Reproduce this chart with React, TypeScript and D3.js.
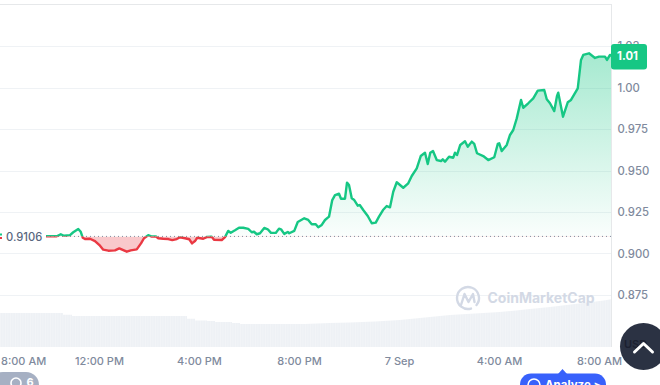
import React from "react";
import * as d3 from "d3";

// hours since 8:00 AM on the first day
const priceHours = [1.84,2.27,2.43,2.56,2.8,2.93,3.13,3.23,3.31,3.4,3.6,3.8,4,4.13,4.33,4.6,4.77,5.07,5.23,5.47,5.64,5.76,5.93,6.07,6.24,6.33,6.53,6.73,6.89,7.07,7.2,7.4,7.57,7.68,7.8,7.89,8.13,8.27,8.47,8.56,8.87,9,9.13,9.23,9.4,9.56,9.73,9.93,10.07,10.16,10.27,10.4,10.57,10.71,10.84,11.03,11.16,11.24,11.37,11.51,11.57,11.77,11.91,12.17,12.33,12.47,12.63,12.73,12.87,13,13.16,13.29,13.4,13.56,13.64,13.8,13.88,13.96,14.07,14.17,14.31,14.39,14.53,14.71,14.87,15.03,15.16,15.32,15.47,15.6,15.73,15.87,16.13,16.33,16.47,16.67,16.83,17,17.11,17.21,17.32,17.47,17.64,17.71,17.8,17.96,18.13,18.2,18.28,18.41,18.6,18.71,18.87,18.97,19.08,19.33,19.53,19.77,19.91,19.97,20.07,20.27,20.4,20.53,20.67,20.84,20.93,21.13,21.33,21.51,21.77,21.87,22,22.17,22.28,22.33,22.52,22.71,22.84,23.11,23.24,23.33,23.56,23.8,23.96,24.2,24.28,24.4,24.5];
const prices = [.9107,.9107,.9119,.911,.9114,.9131,.9151,.9134,.9098,.909,.9092,.9078,.905,.9026,.902,.9022,.9034,.9014,.9022,.9028,.9064,.9095,.9113,.9105,.9105,.9095,.9092,.909,.9084,.909,.9101,.9095,.9089,.9064,.9078,.9098,.9092,.9102,.9104,.9086,.9084,.9102,.9139,.9128,.9143,.9158,.9158,.9151,.9131,.9134,.9119,.9125,.9157,.9149,.9127,.9127,.9153,.9149,.9121,.9133,.9125,.9139,.9193,.9215,.9205,.9179,.9179,.9161,.9175,.9205,.9225,.9325,.9355,.9363,.9333,.9333,.943,.9416,.9336,.9325,.9291,.9295,.9265,.9229,.9185,.9189,.9225,.9265,.9289,.9281,.9375,.9432,.9399,.9426,.947,.9516,.959,.961,.9542,.961,.962,.9566,.956,.957,.9556,.9586,.958,.961,.9596,.9657,.9679,.9646,.9677,.9663,.9607,.959,.9566,.9583,.9663,.9667,.962,.9657,.9717,.9747,.9817,.9928,.9881,.9908,.9938,.9984,.9988,.9932,.9908,.9861,.9952,.9972,.9827,.9914,.9928,.9998,1.0169,1.0199,1.0209,1.0181,1.0189,1.0189,1.0169,1.0199,1.0193];
const basePrice = 0.9106;
const yTickValues = [1.025,1,0.975,0.95,0.925,0.9,0.875];
const yTickLabels = ["1.03","1.00","0.975","0.950","0.925","0.900","0.875"];
const xTickHours = [4,8,12,16,20,24];
const xTickLabels = ["12:00 PM","4:00 PM","8:00 PM","7 Sep","4:00 AM","8:00 AM"];
const volumeHoursEarly = [0,2.52,2.88,7.48,7.8,8.28,8.6,9.28,9.6,12.2];
const volumesEarly = [34,32.3,31,28.3,26.5,26,25,24,23,23];
const volumeHoursLate = [12.2,13.2,14,15,16,17,18,19,20,21,22,23,24,24.5];
const volumesLate = [23,24,24.5,25.5,27,29.5,32,33.5,35,37.5,40,43,46,48];

const W = 660, H = 385;
const GREEN = "#16c784", RED = "#ea3943", LABEL = "#808a9d";
const FONT = "Inter, 'Noto Sans', sans-serif";

export default function App() {
  const x = d3.scaleLinear().domain([0, 24]).range([0, 600]);
  const y = d3.scaleLinear().domain([1, 0.875]).range([88, 295.5]);
  const yVol = d3.scaleLinear().domain([0, 48]).range([347, 299]);
  const pts = priceHours.map((h, i) => [h, prices[i]] as [number, number]);
  const line = d3.line<[number, number]>().x(d => x(d[0])).y(d => y(d[1]));
  const area = d3.area<[number, number]>().x(d => x(d[0])).y0(y(basePrice)).y1(d => y(d[1]));
  const volArea = d3.area<[number, number]>().x(d => x(d[0])).y0(yVol(0)).y1(d => yVol(d[1]));
  const volEarly = volumeHoursEarly.map((h, i) => [h, volumesEarly[i]] as [number, number]);
  const volLate = volumeHoursLate.map((h, i) => [h, volumesLate[i]] as [number, number]);
  const by = y(basePrice);
  const plotR = 611;

  return (
    <svg width={W} height={H} viewBox={`0 0 ${W} ${H}`}
      style={{ position: "fixed", left: 0, top: 0, display: "block", background: "#fff" }}
      fontFamily={FONT}>
      <defs>
        <clipPath id="above"><rect x={0} y={0} width={plotR} height={by} /></clipPath>
        <clipPath id="below"><rect x={0} y={by} width={plotR} height={H - by} /></clipPath>
        <clipPath id="vc"><rect x={0} y={0} width={plotR} height={H} /></clipPath>
        <linearGradient id="gGreen" gradientUnits="userSpaceOnUse" x1={0} x2={0} y1={y(1.02)} y2={by}>
          <stop offset="0" stopColor={GREEN} stopOpacity={0.38} />
          <stop offset="1" stopColor={GREEN} stopOpacity={0.02} />
        </linearGradient>
        <pattern id="volStripes" patternUnits="userSpaceOnUse" width={2.5} height={10}>
          <rect width={2.5} height={10} fill="#eef1f5" />
          <rect width={0.6} height={10} fill="#f4f6f9" />
        </pattern>
      </defs>

      {yTickValues.map(v => (
        <line key={v} x1={0} x2={plotR} y1={Math.floor(y(v)) + 0.5} y2={Math.floor(y(v)) + 0.5} stroke="#eff2f5" />
      ))}
      <line x1={0} x2={plotR} y1={4.5} y2={4.5} stroke="#e6e8ea" />
      <line x1={plotR + 0.5} x2={plotR + 0.5} y1={4} y2={347} stroke="#e6e8ea" />

      <g clipPath="url(#vc)">
        <path d={volArea.curve(d3.curveStepAfter)(volEarly) ?? ""} fill="url(#volStripes)" />
        <path d={volArea.curve(d3.curveMonotoneX)(volLate) ?? ""} fill="url(#volStripes)" />
      </g>

      <path d={area(pts) ?? ""} fill="url(#gGreen)" clipPath="url(#above)" />
      <path d={area(pts) ?? ""} fill={RED} fillOpacity={0.28} clipPath="url(#below)" />
      <line x1={x(1.84)} x2={plotR} y1={by} y2={by} stroke="#808a9d" strokeWidth={1} strokeDasharray="1 3" />
      <path d={line(pts) ?? ""} fill="none" stroke={GREEN} strokeWidth={2.4} strokeLinejoin="round" clipPath="url(#above)" />
      <path d={line(pts) ?? ""} fill="none" stroke={RED} strokeWidth={2.4} strokeLinejoin="round" clipPath="url(#below)" />

      {/* start marker and base price */}
      <path d={`M0 ${by - 2}L2 ${by - 2}`} stroke={GREEN} strokeWidth={2} />
      <path d={`M0 ${by + 1.5}L2 ${by + 1.5}`} stroke={RED} strokeWidth={2} />
      <text x={6} y={by + 2} dominantBaseline="middle" fontSize={11.2} fontWeight={500} fill="#58667e">{basePrice.toFixed(4)}</text>

      {/* watermark */}
      <g fill="none" stroke="#d3d9e5" strokeWidth={2.4}>
        <path d="M476.5 305 A11 11 0 1 0 471 308.6" strokeLinecap="round" />
        <path d="M461 305 L464.5 294 L468.5 302 L473 294 L474.5 302" strokeLinejoin="round" strokeLinecap="round" />
      </g>
      <text x={487.5} y={303} fontSize={14} fontWeight={700} fill="#d3d9e5">CoinMarketCap</text>

      {/* y axis */}
      {yTickValues.map((v, i) => (
        <text key={v} x={617.5} y={y(v) + 0.5} dominantBaseline="middle" fontSize={11.3} fontWeight={500} fill={LABEL}>{yTickLabels[i]}</text>
      ))}
      <rect x={611} y={44} width={36} height={25.5} rx={3} fill={GREEN} />
      <text x={627.5} y={57} textAnchor="middle" dominantBaseline="middle" fontSize={11.3} fontWeight={700} fill="#fff">1.01</text>

      {/* x axis */}
      <text x={1} y={362} dominantBaseline="middle" fontSize={11} fontWeight={500} fill={LABEL}>8:00 AM</text>
      {xTickHours.map((h, i) => (
        <text key={h} x={x(h) - 0.5} y={362} textAnchor="middle" dominantBaseline="middle" fontSize={11} fontWeight={500} fill={LABEL}>{xTickLabels[i]}</text>
      ))}

      {/* overlaid page controls */}
      <circle cx={643.5} cy={346.5} r={23.5} fill="#2b3243" />
      <text x={624} y={344.5} dominantBaseline="middle" fontSize={11} fontWeight={600} fill="#1b2030">USD</text>
      <path d="M634.5 352 L643.5 343.5 L652.5 352" fill="none" stroke="#fff" strokeWidth={3} strokeLinecap="round" strokeLinejoin="round" />

      <rect x={-10} y={372} width={49} height={30} rx={13} fill="#a6b0c3" />
      <circle cx={16} cy={383} r={5} fill="none" stroke="#fff" strokeWidth={1.6} />
      <text x={30} y={386} textAnchor="middle" fontSize={11} fontWeight={700} fill="#fff">6</text>

      <path d="M558 374 L562.5 369 L567 374 Z" fill="#3861fb" />
      <rect x={520} y={373.5} width={86} height={30} rx={11} fill="#3861fb" />
      <circle cx={534} cy={385} r={6} fill="none" stroke="#fff" strokeWidth={1.6} />
      <text x={545} y={389} fontSize={11.5} fontWeight={700} fill="#fff">Analyze &gt;</text>
    </svg>
  );
}
